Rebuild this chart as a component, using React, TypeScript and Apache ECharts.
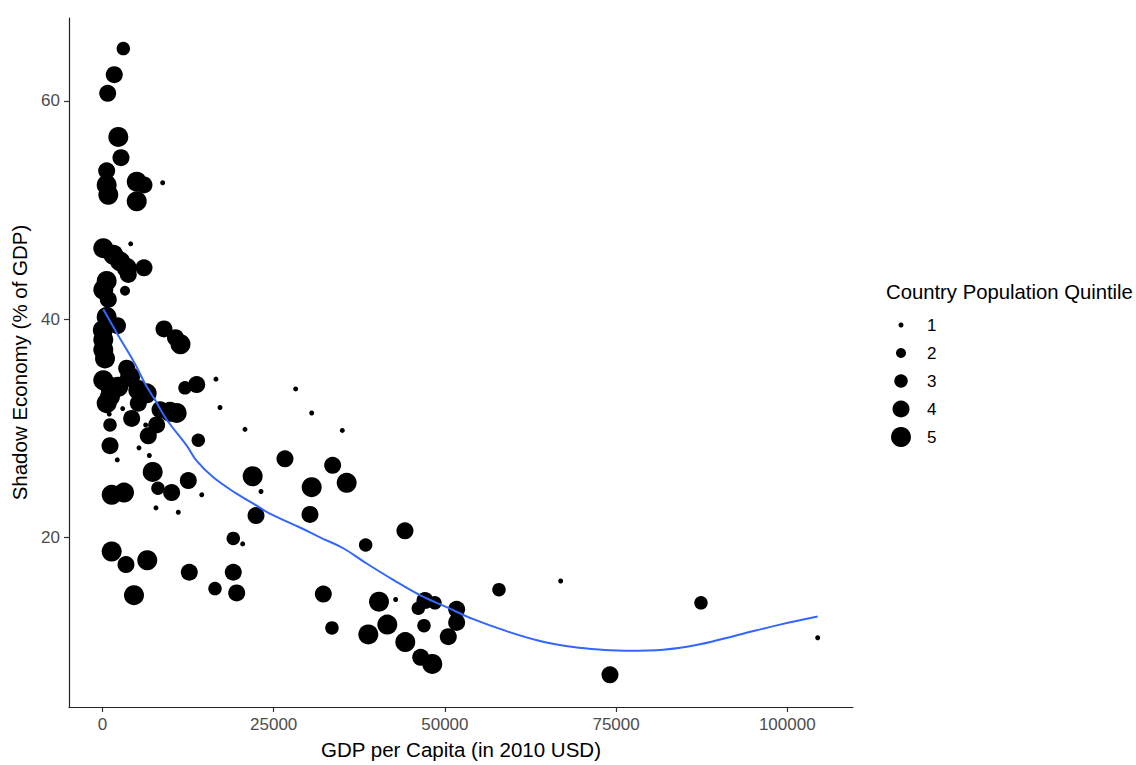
import React, { useEffect, useRef } from "react";
import * as echarts from "echarts";

// GDP per capita (2010 USD), shadow economy (% of GDP), by population quintile
const q1Points: number[][] = [
  [8790, 52.5], [4120, 46.9], [990, 31.3], [2950, 31.8], [6310, 30.3], [5330, 28.2],
  [6840, 27.5], [2160, 27.1], [14490, 23.9], [7810, 22.7], [11070, 22.3], [16570, 34.5],
  [17160, 31.9], [20810, 29.9], [28210, 33.6], [30550, 31.4], [23150, 24.2], [35020, 29.8],
  [20470, 19.4], [42810, 14.3], [66910, 16.0], [104440, 10.8],
];
const q2Points: number[][] = [[3290, 42.6]];
const q3Points: number[][] = [
  [3040, 64.8], [12050, 33.7], [13990, 28.9], [1100, 30.3], [8100, 24.5], [19100, 19.9],
  [16430, 15.3], [38430, 19.3], [57900, 15.2], [48550, 14.0], [46120, 13.5], [46950, 11.9],
  [33510, 11.7], [87400, 14.0],
];
const q4Points: number[][] = [
  [1720, 62.4], [760, 60.7], [2700, 54.8], [610, 53.6], [6060, 52.3], [3770, 44.1],
  [6060, 44.7], [850, 41.8], [2190, 39.4], [8980, 39.1], [10660, 38.3], [3530, 35.5],
  [5230, 32.3], [8400, 31.7], [7910, 30.3], [6690, 29.3], [13760, 34.0], [4260, 30.9],
  [1100, 28.4], [12530, 25.2], [10100, 24.1], [26650, 27.2], [22420, 22.0], [30300, 22.1],
  [3430, 17.5], [12680, 16.8], [19100, 16.8], [19600, 14.9], [33610, 26.6], [44170, 20.6],
  [32250, 14.8], [47090, 14.2], [51720, 13.4], [51720, 12.2], [50500, 10.9], [46470, 9.0],
  [74110, 7.4],
];
const q5Points: number[][] = [
  [2310, 56.7], [610, 52.3], [850, 51.4], [5000, 52.6], [5000, 50.8], [120, 46.5],
  [1580, 45.9], [2560, 45.3], [3530, 44.7], [610, 43.5], [120, 42.7], [610, 40.2],
  [50, 39.0], [120, 38.1], [120, 37.2], [370, 36.4], [11390, 37.7], [120, 34.4],
  [1100, 32.9], [610, 32.3], [4020, 34.7], [5230, 33.5], [6450, 33.2], [2310, 33.8],
  [1100, 33.8], [9860, 31.5], [10830, 31.4], [7330, 26.0], [1340, 23.9], [3140, 24.1],
  [21930, 25.6], [30550, 24.6], [1340, 18.7], [6540, 17.9], [4600, 14.7], [35660, 25.0],
  [40380, 14.1], [41590, 12.0], [38820, 11.1], [44220, 10.4], [48160, 8.4],
];

// LOESS smoother
const loessX = [120, 2300, 4750, 6200, 7670, 9370, 12300, 13760, 16180, 19590, 22520, 24360,
  28840, 31760, 35160, 38580, 42460, 46360, 50260, 54150, 59020, 63890, 68750, 72890,
  77000, 81890, 87250, 93090, 98930, 104440];
const loessY = [40.9, 38.5, 35.9, 34.1, 32.6, 30.8, 28.4, 27.0, 25.5, 24.0, 22.9, 22.2,
  20.9, 20.0, 19.0, 17.6, 16.1, 14.7, 13.6, 12.5, 11.4, 10.5, 9.94, 9.7,
  9.6, 9.7, 10.2, 11.1, 12.0, 12.75];

const quintileNames = ["1", "2", "3", "4", "5"];
const quintileData = [q1Points, q2Points, q3Points, q4Points, q5Points];
const xTicks = [0, 25000, 50000, 75000, 100000];
const yTicks = [20, 40, 60];

const symbolSizes = [5, 10, 13.5, 17, 20];
const legendCenters = [325, 353, 381, 409, 437];

export default function App() {
  const ref = useRef<HTMLDivElement>(null);
  useEffect(() => {
    document.body.style.margin = "0";
    if (!ref.current) return;
    const chart = echarts.init(ref.current, undefined, { renderer: "svg" });
    const font = "'Liberation Sans', Arial, sans-serif";
    const scatterSeries = quintileNames.map((name, i) => ({
      name,
      type: "scatter",
      data: quintileData[i],
      symbol: "circle",
      symbolSize: symbolSizes[i],
      itemStyle: { color: "#000000", opacity: 1 },
      silent: true,
      z: 2,
    }));
    const legendCx = 901;
    const legendTextX = 927;
    const legends = quintileNames.map((name, i) => {
      const d = symbolSizes[i];
      const left = legendCx - d / 2;
      const pad = Math.max(0, legendTextX - (left + d + 5));
      return {
        data: [name],
        orient: "vertical",
        left,
        top: legendCenters[i] - 10,
        padding: 0,
        icon: "circle",
        itemWidth: d,
        itemHeight: d,
        selectedMode: false,
        itemStyle: { opacity: 1 },
        textStyle: { fontSize: 17, color: "#000", fontFamily: font, lineHeight: 20, padding: [0, 0, 0, pad] },
      };
    });
    chart.setOption({
      animation: false,
      backgroundColor: "#ffffff",
      textStyle: { fontFamily: font },
      title: {
        text: "Country Population Quintile",
        left: 886,
        top: 282,
        padding: 0,
        textStyle: { fontSize: 20.3, fontWeight: "normal", color: "#000", fontFamily: font },
      },
      legend: legends,
      grid: { left: 69, right: 283, top: 18, bottom: 52, containLabel: false },
      xAxis: {
        type: "value",
        min: -4890,
        max: 109600,
        name: "GDP per Capita (in 2010 USD)",
        nameLocation: "middle",
        nameGap: 32,
        nameTextStyle: { fontSize: 20.5, color: "#000", fontFamily: font },
        splitLine: { show: false },
        axisLine: { show: true, onZero: false, lineStyle: { color: "#222", width: 1.2 } },
        axisTick: { show: true, length: 5, customValues: xTicks, lineStyle: { color: "#333", width: 1.2 } },
        axisLabel: {
          customValues: xTicks,
          fontSize: 17,
          color: "#4D4D4D",
          margin: 9,
          fontFamily: font,
          formatter: (v: number) => String(v),
        },
      },
      yAxis: {
        type: "value",
        min: 4.45,
        max: 67.6,
        name: "Shadow Economy (% of GDP)",
        nameLocation: "middle",
        nameGap: 38,
        nameTextStyle: { fontSize: 20.5, color: "#000", fontFamily: font },
        splitLine: { show: false },
        axisLine: { show: true, onZero: false, lineStyle: { color: "#222", width: 1.2 } },
        axisTick: { show: true, length: 5, customValues: yTicks, lineStyle: { color: "#333", width: 1.2 } },
        axisLabel: {
          customValues: yTicks,
          fontSize: 17,
          color: "#4D4D4D",
          margin: 9,
          fontFamily: font,
          formatter: (v: number) => String(v),
        },
      },
      series: [
        ...scatterSeries,
        {
          name: "loess",
          type: "line",
          data: loessX.map((x, i) => [x, loessY[i]]),
          smooth: 0.4,
          showSymbol: false,
          symbol: "none",
          lineStyle: { color: "#3366FF", width: 2 },
          silent: true,
          z: 3,
        },
      ],
    });
    return () => chart.dispose();
  }, []);
  return <div ref={ref} style={{ width: 1136, height: 765 }} />;
}
